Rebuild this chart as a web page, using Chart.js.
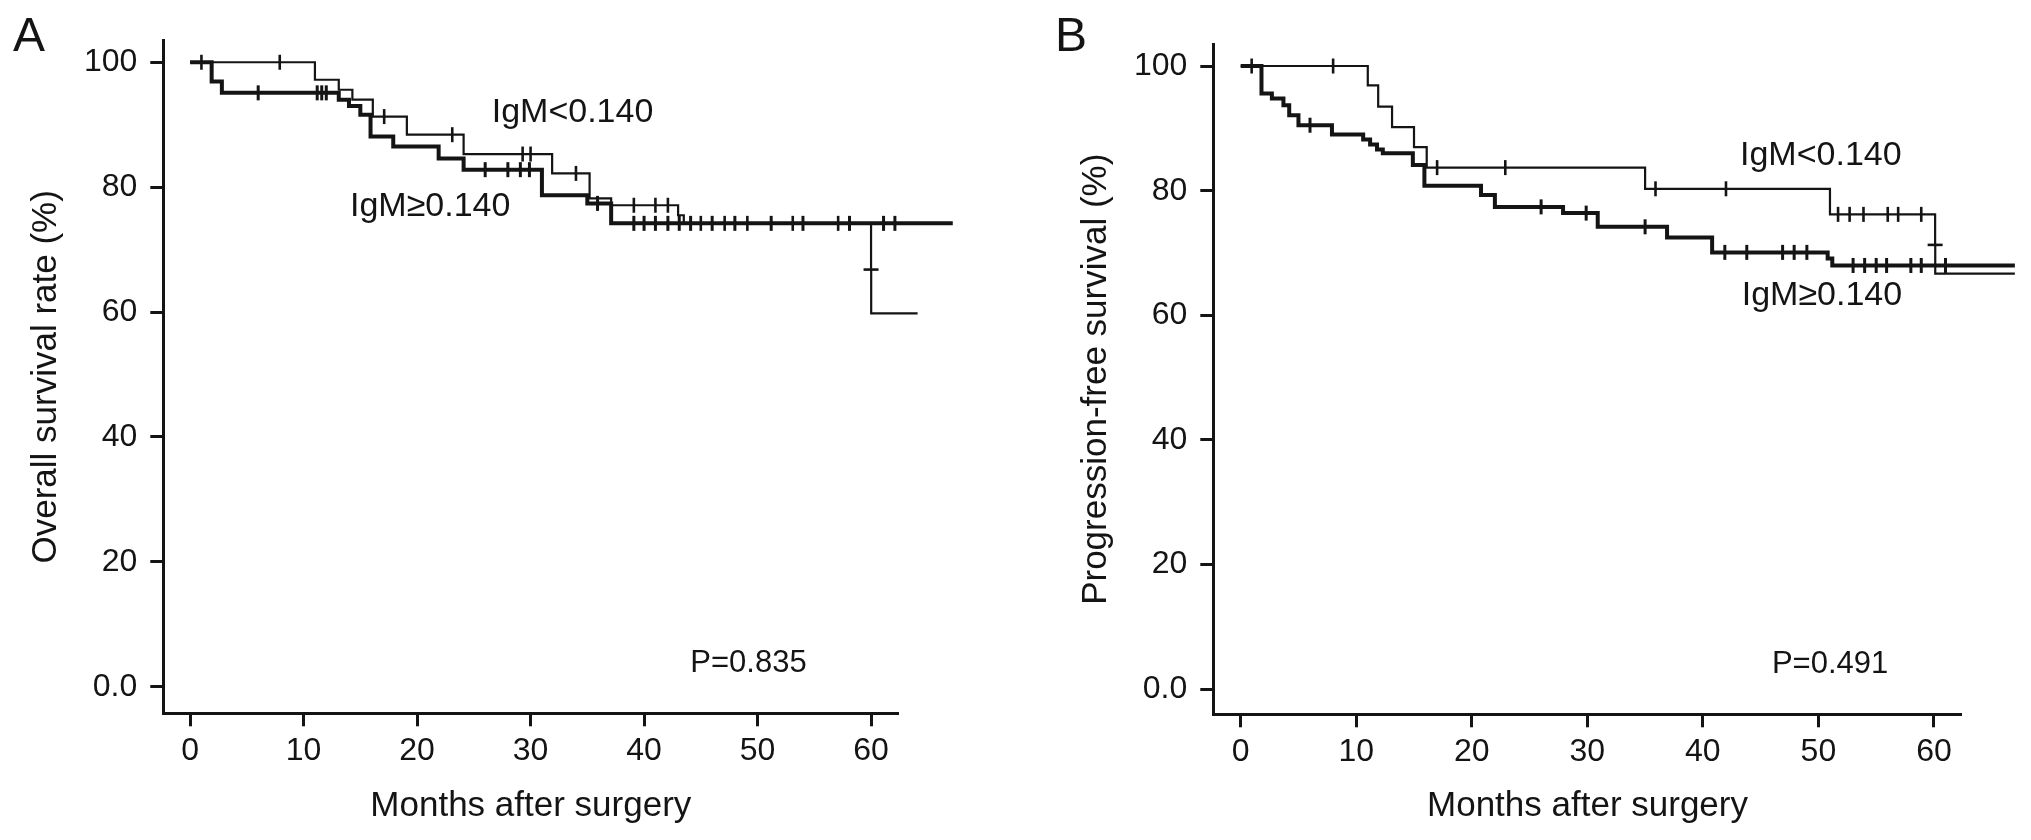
<!DOCTYPE html>
<html><head><meta charset="utf-8">
<script src="https://cdn.jsdelivr.net/npm/chart.js@4.4.1/dist/chart.umd.min.js"></script>
<style>
html,body{margin:0;padding:0;background:#fff;overflow:hidden;}
#wrap{position:relative;width:2031px;height:840px;background:#fff;}
canvas{position:absolute;top:0;}
#cA{left:0;} #cB{left:1015px;}
</style></head><body>
<div id="wrap"><canvas id="cA" width="1015" height="840"></canvas><canvas id="cB" width="1016" height="840"></canvas></div>
<script>
// ---------- data ----------
const monthTicks = [0, 10, 20, 30, 40, 50, 60];
const survivalTicks = [0, 20, 40, 60, 80, 100];
const survivalTickLabels = ['0.0', '20', '40', '60', '80', '100'];

const groupLowLabel = 'IgM<0.140';
const groupHighLabel = 'IgM\u22650.140';

// Panel A: overall survival
const osLowTimes    = [0, 11.0, 13.1, 14.3, 16.1, 19.1, 24.1, 31.9, 35.2, 37.1, 43.0, 43.5, 60.0, 60.01, 64.1];
const osLowSurvival = [100, 97.2, 95.6, 94.0, 91.3, 88.4, 85.3, 82.2, 78.2, 77.1, 75.5, 74.2, 66.8, 59.8, 59.8];
const osLowCensored = [1.0, 7.9, 17.1, 23.1, 29.3, 30.0, 34.0, 39.1, 41.0, 42.1, 45.0, 47.1, 49.1, 53.1, 57.1, 60.0, 64.1];

const osHighTimes    = [0, 1.9, 2.8, 13.1, 14.0, 15.0, 15.9, 17.9, 21.9, 24.1, 31.0, 35.0, 37.1, 67.2];
const osHighSurvival = [100, 96.9, 95.1, 94.0, 93.0, 91.6, 88.1, 86.5, 84.6, 82.8, 78.7, 77.4, 74.2, 74.2];
const osHighCensored = [6.0, 11.2, 11.6, 12.0, 26.0, 28.0, 29.1, 29.9, 35.9, 39.1, 40.0, 41.0, 42.1, 43.1, 44.1, 46.0, 48.0, 51.2, 54.0, 58.1, 61.1, 62.1, 65.0, 65.9, 67.2];

// Panel B: progression-free survival
const pfsLowTimes    = [0, 11.0, 11.9, 13.1, 15.0, 16.1, 35.0, 51.0, 60.1, 60.11, 67.0];
const pfsLowSurvival = [100, 96.9, 93.5, 90.2, 87.0, 83.7, 80.3, 76.2, 71.3, 66.7, 66.7];
const pfsLowCensored = [0.95, 8.0, 17.0, 22.9, 35.9, 42.0, 51.7, 52.7, 53.9, 56.0, 56.9, 58.9, 60.1, 63.8, 67.0];

const pfsHighTimes    = [0, 1.8, 2.7, 3.7, 4.2, 5.0, 7.9, 10.6, 11.2, 11.8, 12.3, 14.9, 15.9, 20.8, 22.0, 27.9, 30.9, 36.9, 40.8, 50.8, 51.2, 67.0];
const pfsHighSurvival = [100, 95.6, 94.8, 93.7, 92.1, 90.5, 89.0, 88.2, 87.4, 86.6, 86.0, 84.1, 80.8, 79.3, 77.4, 76.4, 74.2, 72.5, 70.1, 69.1, 68.0, 68.0];
const pfsHighCensored = [6.0, 26.0, 29.9, 35.0, 41.9, 43.8, 46.9, 47.9, 49.0, 53.0, 54.0, 55.0, 55.9, 58.0, 58.9, 61.0, 67.0];

// ---------- helpers ----------
const INK = '#141414';
const FONT = '"Liberation Sans", Arial, Helvetica, sans-serif';

function stepLevel(times, surv, t) {
  let v = surv[0];
  for (let i = 0; i < times.length; i++) { if (times[i] <= t) v = surv[i]; }
  return v;
}
function onDrop(times, t) {
  return times.some(x => x > t && x - t <= 0.05);
}
function curveDataset(times, surv, width) {
  return {
    data: times.map((t, i) => ({x: t, y: surv[i]})),
    stepped: true, borderColor: INK, borderWidth: width, pointRadius: 0,
    pointHoverRadius: 0, fill: false, clip: false, tension: 0, order: 2
  };
}
function censorDataset(times, surv, cens, width) {
  return {
    data: cens.map(t => ({x: t, y: stepLevel(times, surv, t)})),
    showLine: false, pointStyle: 'line', pointRadius: 7.5, pointHoverRadius: 7.5,
    pointBorderWidth: width, borderColor: INK, backgroundColor: INK,
    pointRotation: ctx => onDrop(times, cens[ctx.dataIndex]) ? 0 : 90,
    clip: false, order: 1
  };
}

function makePanel(canvasId, p) {
  const notesPlugin = {
    id: 'notes',
    afterDraw(chart) {
      const ctx = chart.ctx;
      p.notes.forEach(n => {
        ctx.save();
        ctx.font = n.font;
        ctx.fillStyle = INK;
        ctx.textAlign = n.align;
        ctx.textBaseline = 'alphabetic';
        ctx.fillText(n.text, n.x, n.y);
        ctx.restore();
      });
    }
  };
  return new Chart(document.getElementById(canvasId), {
    type: 'line',
    data: {
      datasets: [
        curveDataset(p.highTimes, p.highSurv, 4),
        curveDataset(p.lowTimes, p.lowSurv, 2.2),
        censorDataset(p.highTimes, p.highSurv, p.highCens, 3),
        censorDataset(p.lowTimes, p.lowSurv, p.lowCens, 2.6)
      ]
    },
    options: {
      responsive: false, animation: false, devicePixelRatio: 1, events: [],
      layout: {padding: p.padding},
      plugins: {legend: {display: false}, tooltip: {enabled: false}, title: {display: false}},
      scales: {
        x: {
          type: 'linear', min: p.xMin, max: p.xMax,
          afterBuildTicks: s => { s.ticks = monthTicks.map(v => ({value: v})); },
          afterFit: s => { s.height = p.xHeight; },
          ticks: {color: INK, font: {family: FONT, size: 32}, padding: 6, maxRotation: 0,
                  callback: v => String(v)},
          grid: {display: true, drawOnChartArea: false, drawTicks: true, tickLength: 13, tickWidth: 3, tickColor: INK},
          border: {display: true, color: INK, width: 3},
          title: {display: true, text: 'Months after surgery', color: INK,
                  font: {family: FONT, size: 35}, padding: {top: 0, bottom: 13}}
        },
        y: {
          type: 'linear', min: p.yMin, max: p.yMax,
          afterBuildTicks: s => { s.ticks = survivalTicks.map(v => ({value: v})); },
          afterFit: s => { s.width = p.yWidth; },
          ticks: {color: INK, font: {family: FONT, size: 32}, padding: 13,
                  callback: v => survivalTickLabels[survivalTicks.indexOf(v)]},
          grid: {display: true, drawOnChartArea: false, drawTicks: true, tickLength: 13, tickWidth: 3, tickColor: INK},
          border: {display: true, color: INK, width: 3},
          title: {display: true, text: p.yTitle, color: INK,
                  font: {family: FONT, size: 35}, padding: {top: 25, bottom: 0}}
        }
      }
    },
    plugins: [notesPlugin]
  });
}

makePanel('cA', {
  lowTimes: osLowTimes, lowSurv: osLowSurvival, lowCens: osLowCensored,
  highTimes: osHighTimes, highSurv: osHighSurvival, highCens: osHighCensored,
  xMin: -2.36, xMax: 62.4, yMin: -4.26, yMax: 103.5,
  yWidth: 163.3, xHeight: 126.7,
  padding: {left: 0, right: 116.7, top: 40.4, bottom: 0},
  yTitle: 'Overall survival rate (%)',
  notes: [
    {text: 'A', x: 29, y: 51, align: 'center', font: '48px ' + FONT},
    {text: groupLowLabel, x: 491.7, y: 122, align: 'left', font: '34px ' + FONT},
    {text: groupHighLabel, x: 350, y: 216, align: 'left', font: '34px ' + FONT},
    {text: 'P=0.835', x: 806.7, y: 671.7, align: 'right', font: '31px ' + FONT}
  ]
});

makePanel('cB', {
  lowTimes: pfsLowTimes, lowSurv: pfsLowSurvival, lowCens: pfsLowCensored,
  highTimes: pfsHighTimes, highSurv: pfsHighSurvival, highCens: pfsHighCensored,
  xMin: -2.37, xMax: 62.4, yMin: -4.01, yMax: 103.5,
  yWidth: 163, xHeight: 125.7,
  padding: {left: 35.3, right: 69.3, top: 44.2, bottom: 0},
  yTitle: 'Progression-free survival (%)',
  notes: [
    {text: 'B', x: 56, y: 51, align: 'center', font: '48px ' + FONT},
    {text: groupLowLabel, x: 725, y: 165, align: 'left', font: '34px ' + FONT},
    {text: groupHighLabel, x: 726.7, y: 305, align: 'left', font: '34px ' + FONT},
    {text: 'P=0.491', x: 873.3, y: 673.3, align: 'right', font: '31px ' + FONT}
  ]
});
</script>
</body></html>
